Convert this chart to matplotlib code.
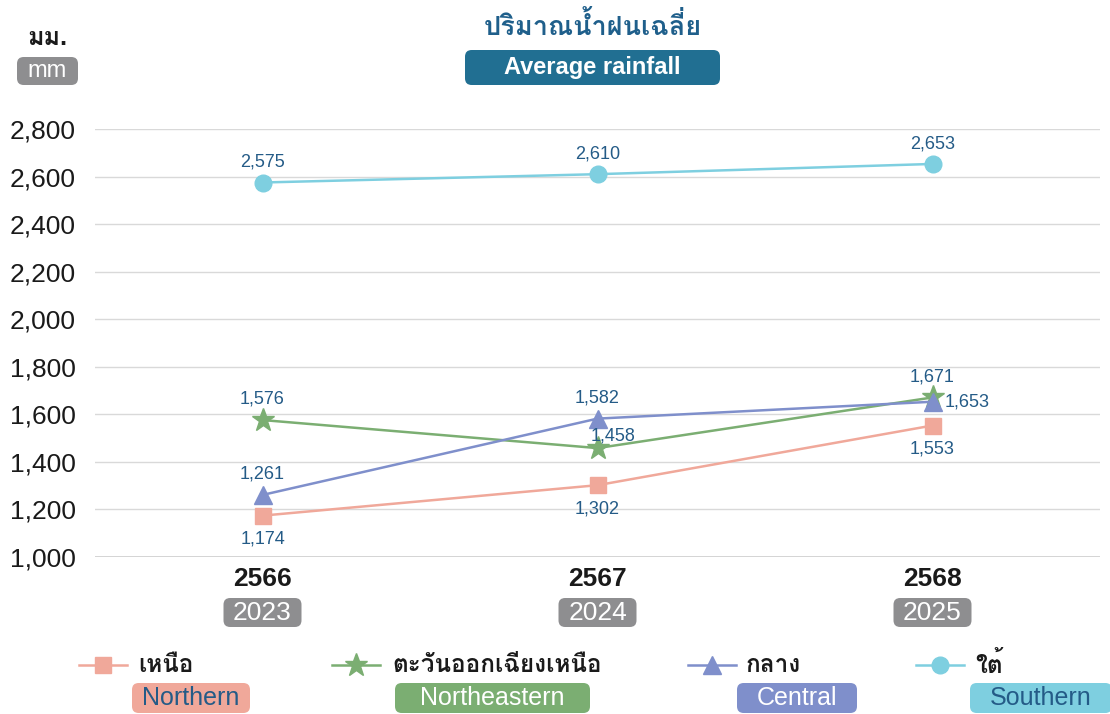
import matplotlib
matplotlib.use('Agg')
import matplotlib.pyplot as plt
from matplotlib.lines import Line2D
from matplotlib.patches import FancyBboxPatch
from matplotlib import font_manager
from matplotlib.ft2font import FT2Font

# Data
years_be = ['2566', '2567', '2568']
years_ce = ['2023', '2024', '2025']
northern = [1174, 1302, 1553]
northeastern = [1576, 1458, 1671]
central = [1261, 1582, 1653]
southern = [2575, 2610, 2653]
series_th = ['เหนือ', 'ตะวันออกเฉียงเหนือ', 'กลาง', 'ใต้']
series_en = ['Northern', 'Northeastern', 'Central', 'Southern']
yticks = [1000, 1200, 1400, 1600, 1800, 2000, 2200, 2400, 2600, 2800]

W, H = 1110, 714


def find_thai_font():
    """Look for any installed font that has Thai glyphs."""
    for f in font_manager.fontManager.ttflist:
        try:
            if 0x0E01 in FT2Font(f.fname).get_charmap():
                return f.name
        except Exception:
            continue
    return None


thai = find_thai_font()
fams = ['Liberation Sans'] + ([thai] if thai else []) + ['DejaVu Sans']
plt.rcParams['font.family'] = fams

colors = ['#F0A89A', '#7BAE72', '#7F8FCB', '#7ECFE0']
markers = ['s', '*', '^', 'o']
msizes = [12, 17, 13, 12]
label_col = '#245B87'
grey_box = '#8E8E90'


def fx(px):
    return px / W


def fy(py):
    return 1 - py / H


def pixel_box(fig, x0, y0, x1, y1, color, text, tcolor, size, weight='normal'):
    """Rounded box given in pixel coords (top-left origin) with centred text."""
    fig.add_artist(FancyBboxPatch((fx(x0), fy(y1)), fx(x1 - x0), (y1 - y0) / H,
                                  boxstyle='round,pad=0,rounding_size=0.006',
                                  transform=fig.transFigure, facecolor=color,
                                  edgecolor='none', mutation_aspect=W / H))
    fig.text(fx((x0 + x1) / 2), fy((y0 + y1) / 2), text, ha='center', va='center',
             fontsize=size, color=tcolor, fontweight=weight)


fig = plt.figure(figsize=(W / 100, H / 100), dpi=100)
ax = fig.add_axes([fx(95), fy(557), fx(1100) - fx(95), (557 - 129) / H])

x = range(len(years_be))
all_series = [northern, northeastern, central, southern]
for vals, c, m, ms in zip(all_series, colors, markers, msizes):
    ax.plot(x, vals, color=c, marker=m, markersize=ms, linewidth=1.8, zorder=3)

# data labels: (dx pt, dy pt, ha)
offsets = {
    0: [(0, -17, 'center')] * 3,
    1: [(0, 15, 'center'), (11.5, 9, 'center'), (0, 14.5, 'center')],
    2: [(0, 15, 'center'), (0, 15, 'center'), (8.5, 0, 'left')],
    3: [(0, 14.5, 'center')] * 3,
}
for si, vals in enumerate(all_series):
    for i, v in enumerate(vals):
        dx, dy, ha = offsets[si][i]
        ax.annotate(f'{v:,}', (i, v), xytext=(dx, dy), textcoords='offset points',
                    ha=ha, va='center', fontsize=13, color=label_col, zorder=4)

ax.set_xlim(-0.5, 2.5)
ax.set_ylim(1000, 2800)
ax.set_yticks(yticks)
ax.set_yticklabels([f'{t:,}' for t in yticks], fontsize=19, color='#1A1A1A')
ax.yaxis.grid(True, color='#D9D9D9', linewidth=1)
ax.set_axisbelow(True)
for s in ax.spines.values():
    s.set_visible(False)
ax.tick_params(axis='both', length=0, pad=14)
ax.set_xticks(list(x))
ax.set_xticklabels([])
ax.axhline(1000, color='#CFCFCF', linewidth=1.2, zorder=1)

# x labels: Buddhist year bold + CE year in grey box
for i, (be, ce) in enumerate(zip(years_be, years_ce)):
    cx = 95 + (1100 - 95) * (i + 0.5) / 3
    fig.text(fx(cx), fy(579), be, ha='center', va='center', fontsize=19,
             fontweight='bold', color='#1A1A1A')
    pixel_box(fig, cx - 39, 598, cx + 39, 627, grey_box, ce, 'white', 19)

# title
fig.text(fx(593), fy(27), 'ปริมาณน้ำฝนเฉลี่ย', ha='center', va='center',
         fontsize=19.5, fontweight='bold', color='#1F5F8B')
pixel_box(fig, 465, 50, 720, 85, '#216F92', 'Average rainfall', 'white', 17, 'bold')

# unit
fig.text(fx(47), fy(38), 'มม.', ha='center', va='center', fontsize=18,
         fontweight='bold', color='#1A1A1A')
pixel_box(fig, 17, 57, 78, 85, grey_box, 'mm', 'white', 17)

# legend
mark_x = [103, 356, 712, 940]
text_x = [138, 392, 746, 975]
boxes = [(132, 250), (395, 590), (737, 857), (970, 1112)]
en_txt = ['#245B87', 'white', 'white', '#245B87']
for mx, tx, (b0, b1), c, m, ms, th, en, tc in zip(mark_x, text_x, boxes, colors, markers,
                                                 msizes, series_th, series_en, en_txt):
    fig.add_artist(Line2D([fx(mx - 24), fx(mx + 24)], [fy(665), fy(665)],
                          transform=fig.transFigure, color=c, linewidth=1.8))
    fig.add_artist(Line2D([fx(mx)], [fy(665)], transform=fig.transFigure, color=c,
                          marker=m, markersize=ms, linestyle='none'))
    fig.text(fx(tx), fy(665), th, ha='left', va='center', fontsize=17.5,
             fontweight='bold', color='#1A1A1A')
    pixel_box(fig, b0, 683, b1, 713, c, en, tc, 18)

fig.savefig('out.png', dpi=100)
